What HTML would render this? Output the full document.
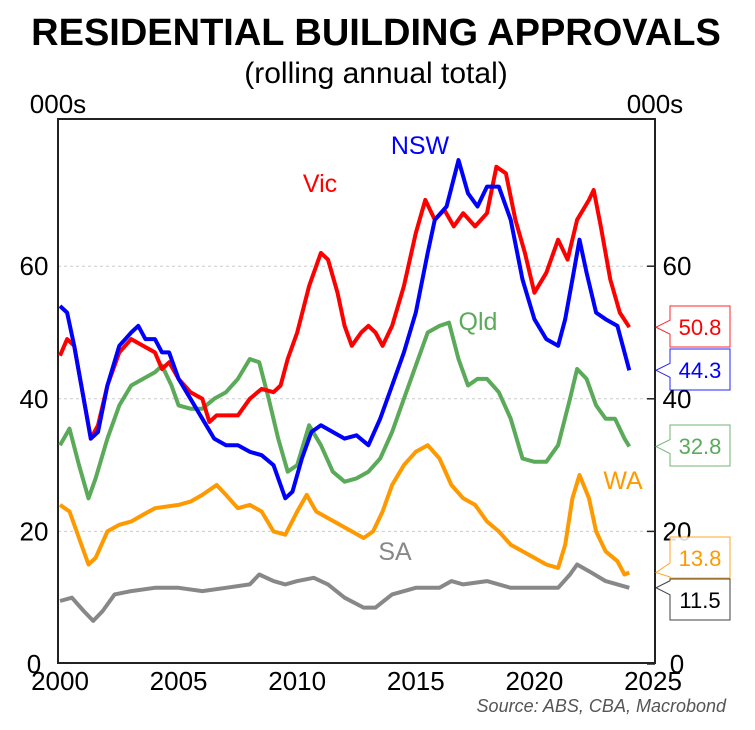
<!DOCTYPE html>
<html><head><meta charset="utf-8"><style>
body{margin:0;background:#fff;}
svg text{font-family:"Liberation Sans",sans-serif;}
</style></head><body>
<svg width="755" height="725" xmlns="http://www.w3.org/2000/svg">
<text x="376" y="45" font-size="38" font-weight="bold" text-anchor="middle">RESIDENTIAL BUILDING APPROVALS</text>
<text x="376" y="83" font-size="30" text-anchor="middle">(rolling annual total)</text>
<text x="58" y="113" font-size="26" text-anchor="middle">000s</text>
<text x="655" y="113" font-size="26" text-anchor="middle">000s</text>
<g id="grid"></g>
<rect x="58" y="119" width="597" height="544" fill="none" stroke="#222" stroke-width="2"/>
<g id="ticks"></g>
<g id="series"></g>
<g id="callouts"></g>
<text x="420" y="154" font-size="25" fill="#0000ff" text-anchor="middle">NSW</text>
<text x="320" y="192" font-size="25" fill="#ff0000" text-anchor="middle">Vic</text>
<text x="478" y="330" font-size="25" fill="#5aaa5a" text-anchor="middle">Qld</text>
<text x="395" y="560" font-size="25" fill="#888" text-anchor="middle">SA</text>
<text x="623" y="489" font-size="25" fill="#ff9900" text-anchor="middle">WA</text>
<text x="726" y="712" font-size="18" font-style="italic" fill="#555" text-anchor="end">Source: ABS, CBA, Macrobond</text>
</svg>
<script>
const yTicks=[0,20,40,60];
const xTicks=[2000,2005,2010,2015,2020,2025];
const nswT=[2000.0,2000.3,2000.6,2001.0,2001.3,2001.6,2002.0,2002.5,2003.0,2003.3,2003.6,2004.0,2004.3,2004.6,2005.0,2005.5,2006.0,2006.5,2007.0,2007.5,2008.0,2008.5,2009.0,2009.5,2009.8,2010.2,2010.6,2011.0,2011.5,2012.0,2012.5,2013.0,2013.5,2014.0,2014.5,2015.0,2015.5,2015.8,2016.3,2016.8,2017.2,2017.6,2018.0,2018.5,2019.0,2019.5,2020.0,2020.5,2021.0,2021.3,2021.6,2021.9,2022.2,2022.6,2023.0,2023.5,2023.8,2024.0];
const nswV=[54,53,48,40,34,35,42,48,50,51,49,49,47,47,43,40,37,34,33,33,32,31.5,30,25,26,31,35,36,35,34,34.5,33,37,42,47,53,62,67,69,76,71,69,72,72,67,58,52,49,48,52,58,64,59,53,52,51,47,44.3];
const vicT=[2000.0,2000.3,2000.6,2001.0,2001.3,2001.6,2002.0,2002.5,2003.0,2003.5,2004.0,2004.3,2004.6,2005.0,2005.5,2006.0,2006.3,2006.6,2007.5,2008.0,2008.5,2009.0,2009.3,2009.6,2010.0,2010.5,2011.0,2011.3,2011.7,2012.0,2012.3,2012.7,2013.0,2013.3,2013.6,2014.0,2014.5,2015.0,2015.4,2015.8,2016.2,2016.6,2017.0,2017.5,2018.0,2018.4,2018.8,2019.2,2019.6,2020.0,2020.5,2021.0,2021.4,2021.8,2022.3,2022.5,2022.8,2023.2,2023.6,2024.0];
const vicV=[46.5,49,48,40,34,36,42,47,49,48,47,44.5,45.5,43,41,40,36.5,37.5,37.5,40,41.5,41,42,46,50,57,62,61,56,51,48,50,51,50,48,51,57,65,70,67,68.5,66,68,66,68,75,74,67,62,56,59,64,61,67,70,71.5,66,58,53,50.8];
const qldT=[2000.0,2000.4,2000.8,2001.2,2001.5,2002.0,2002.5,2003.0,2003.5,2004.0,2004.3,2004.7,2005.0,2005.5,2006.0,2006.5,2007.0,2007.5,2008.0,2008.4,2008.8,2009.2,2009.6,2010.0,2010.5,2011.0,2011.5,2012.0,2012.5,2013.0,2013.5,2014.0,2014.5,2015.0,2015.5,2016.0,2016.4,2016.8,2017.2,2017.6,2018.0,2018.5,2019.0,2019.5,2020.0,2020.5,2021.0,2021.5,2021.8,2022.2,2022.6,2023.0,2023.4,2023.8,2024.0];
const qldV=[33,35.5,30,25,28,34,39,42,43,44,45,42,39,38.5,38.5,40,41,43,46,45.5,40,34,29,30,36,33,29,27.5,28,29,31,35,40,45,50,51,51.5,46,42,43,43,41,37,31,30.5,30.5,33,40,44.5,43,39,37,37,34,32.8];
const waT=[2000.0,2000.4,2000.8,2001.2,2001.5,2002.0,2002.5,2003.0,2003.5,2004.0,2005.0,2005.5,2006.0,2006.6,2007.0,2007.5,2008.0,2008.5,2009.0,2009.5,2010.0,2010.4,2010.8,2011.3,2011.8,2012.3,2012.8,2013.2,2013.6,2014.0,2014.5,2015.0,2015.5,2016.0,2016.5,2017.0,2017.5,2018.0,2018.5,2019.0,2019.5,2020.0,2020.5,2021.0,2021.3,2021.6,2021.9,2022.3,2022.6,2023.0,2023.5,2023.8,2024.0];
const waV=[24,23,19,15,16,20,21,21.5,22.5,23.5,24,24.5,25.5,27,25.5,23.5,24,23,20,19.5,23,25.5,23,22,21,20,19,20,23,27,30,32,33,31,27,25,24,21.5,20,18,17,16,15,14.5,18,25,28.5,25,20,17,15.5,13.5,13.8];
const saT=[2000.0,2000.5,2001.0,2001.4,2001.8,2002.3,2003.0,2004.0,2005.0,2006.0,2007.0,2008.0,2008.4,2009.0,2009.5,2010.0,2010.7,2011.3,2012.0,2012.8,2013.3,2014.0,2015.0,2016.0,2016.5,2017.0,2018.0,2019.0,2020.0,2021.0,2021.5,2021.8,2022.3,2023.0,2023.5,2024.0];
const saV=[9.5,10,8,6.5,8,10.5,11,11.5,11.5,11,11.5,12,13.5,12.5,12,12.5,13,12,10,8.5,8.5,10.5,11.5,11.5,12.5,12,12.5,11.5,11.5,11.5,13.5,15,14,12.5,12,11.5];
const lastVals=[50.8,44.3,32.8,13.8,11.5];
const NS='http://www.w3.org/2000/svg';
function X(t){return 60+(t-2000)*23.72;}
function Y(v){return 664-v*6.63;}
function mk(tag,attrs,parent){const e=document.createElementNS(NS,tag);for(const k in attrs)e.setAttribute(k,attrs[k]);parent.appendChild(e);return e;}
const grid=document.getElementById('grid'),ticks=document.getElementById('ticks'),ser=document.getElementById('series'),cal=document.getElementById('callouts');
yTicks.forEach(v=>{
 if(v>0){const g=mk('line',{x1:58,x2:655,y1:Y(v),y2:Y(v),stroke:'#ccc','stroke-dasharray':'3,3'},grid);
 
 }
 const l=mk('text',{x:34,y:Y(v)+9,'font-size':26,'text-anchor':'middle'},ticks);l.textContent=v;
 
 
 const r=mk('text',{x:677,y:Y(v)+9,'font-size':26,'text-anchor':'middle'},ticks);r.textContent=v;
 
 
 mk('line',{x1:647,x2:655,y1:Y(v),y2:Y(v),stroke:'#222','stroke-width':1.5},ticks);
});
xTicks.forEach(t=>{
 const l=mk('text',{x:X(t),y:690,'font-size':26,'text-anchor':'middle'},ticks);l.textContent=t;
 
 
});
const seriesDefs=[['sa',saT,saV,'#888'],['wa',waT,waV,'#ff9900'],['qld',qldT,qldV,'#5aaa5a'],['vic',vicT,vicV,'#ff0000'],['nsw',nswT,nswV,'#0000ff']];
seriesDefs.forEach(s=>{
 const d=s[1].map((t,i)=>(i?'L':'M')+X(t).toFixed(1)+','+Y(s[2][i]).toFixed(1)).join('');
 const p=mk('path',{d:d,fill:'none',stroke:s[3],'stroke-width':4,'stroke-linejoin':'round'},ser);
 
 
});
const calColors=['#ff0000','#0000ff','#5aaa5a','#ff9900','#222'];
const calText=['#ff0000','#0000ff','#5aaa5a','#ff9900','#000'];
const calNames=['vic','nsw','qld','wa','sa'];
const boxTops=[306,349,425,537,579];
lastVals.forEach((v,i)=>{
 const ty=Y(v),top=boxTops[i];
 const g=mk('g',{},cal);
 
 
 const cy=Math.min(Math.max(ty,top+8),top+33);
 mk('path',{d:`M670,${top}H730V${top+41}H670V${cy+7}L656,${ty}L670,${cy-7}Z`,fill:'#fff',stroke:calColors[i],'stroke-width':1,opacity:0.85},g);
 const t=mk('text',{x:700,y:top+29,'font-size':22,'text-anchor':'middle',fill:calText[i]},g);t.textContent=v.toFixed(1);
});
</script>
</body></html>
